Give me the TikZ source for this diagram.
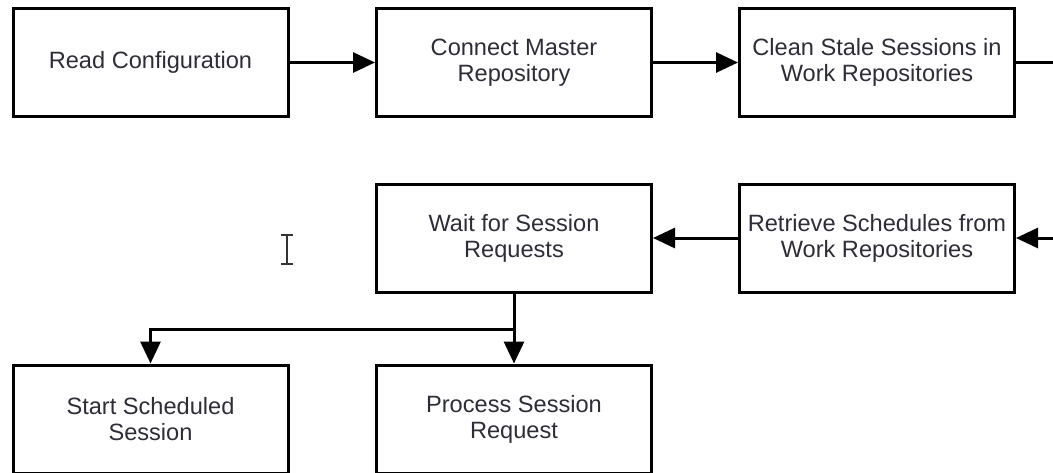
\documentclass[tikz,border=0pt]{standalone}
\usepackage{fontspec}
\setmainfont{Liberation Sans}
\usetikzlibrary{arrows.meta}
\definecolor{labelColor}{RGB}{45,45,55}
\tikzstyle{flowChart} = [x = 1pt, y = -1pt]
\tikzstyle{stepBox} = [draw=black, line width=3pt, minimum width=275pt, minimum height=108pt, inner sep=0pt, align=center, text=labelColor, font=\fontsize{23.6}{26}\selectfont]
\tikzstyle{flowLine} = [line width=3pt, -{Triangle[length=22pt, width=20pt]}]
\tikzstyle{plainLine} = [line width=3pt]
\tikzstyle{cursorLine} = [line width=1.3pt, color=black!80]

\begin{document}
\begin{tikzpicture}[flowChart]
  \clip (0,0) rectangle (1053,472);
  % first row
  \node [stepBox] (readConfig) at (150.5,62.5) {Read Configuration};
  \node [stepBox] (connectMaster) at (514,62.5) {Connect Master\\Repository};
  \node [stepBox] (cleanStale) at (877,62.5) {Clean Stale Sessions in\\Work Repositories};
  % second row
  \node [stepBox] (waitRequests) at (514,238) {Wait for Session\\Requests};
  \node [stepBox] (retrieveSchedules) at (877,238) {Retrieve Schedules from\\Work Repositories};
  % third row
  \node [stepBox] (startScheduled) at (150.5,419) {Start Scheduled\\Session};
  \node [stepBox] (processRequest) at (514,419) {Process Session\\Request};

  \coordinate (outRight) at (1053,62.5);
  \coordinate (inRight) at (1053,238);
  \path (waitRequests.south) ++(0,36) coordinate (split);

  \draw [flowLine] (readConfig) -- (connectMaster);
  \draw [flowLine] (connectMaster) -- (cleanStale);
  \draw [plainLine] (cleanStale) -- (outRight);
  \draw [flowLine] (inRight) -- (retrieveSchedules);
  \draw [flowLine] (retrieveSchedules) -- (waitRequests);
  \draw [flowLine] (waitRequests) -- (processRequest);
  \draw [flowLine] (split) -| (startScheduled.north);

  % text cursor
  \draw [cursorLine] (287,235) -- (287,264);
  \draw [cursorLine] (281,235) -- (293,235);
  \draw [cursorLine] (281,264) -- (293,264);
\end{tikzpicture}
\end{document}
